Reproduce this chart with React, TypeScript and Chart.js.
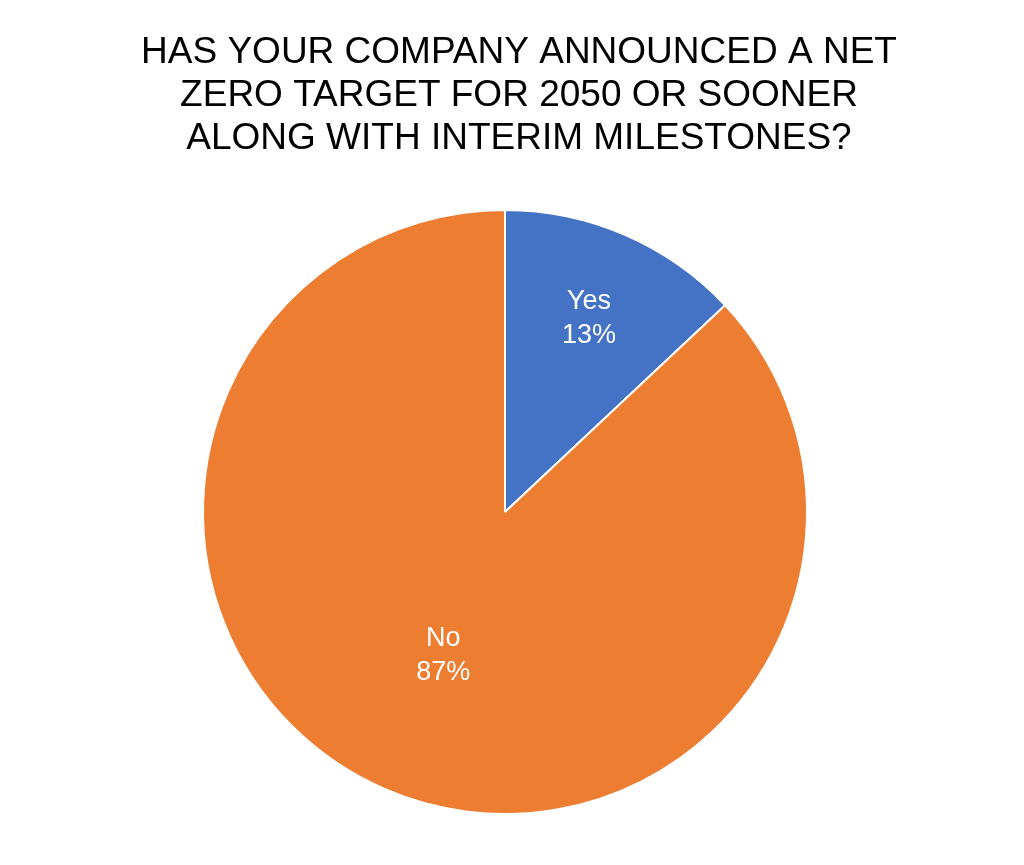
import React, { useEffect, useRef } from "react";
import { Chart, registerables } from "chart.js";

Chart.register(...registerables);

const categories = ["Yes", "No"];
const values = [13, 87];
const colors = ["#4472C4", "#ED7D31"];
const titleLines = [
  "HAS YOUR COMPANY ANNOUNCED A NET",
  "ZERO TARGET FOR 2050 OR SOONER",
  "ALONG WITH INTERIM MILESTONES?",
];

const FONT = "Arial, sans-serif";

const titlePlugin = {
  id: "manualTitle",
  afterDraw(chart: any, _args: any, opts: any) {
    const ctx = chart.ctx;
    ctx.save();
    ctx.fillStyle = "#000000";
    ctx.font = `${opts.size}px ${FONT}`;
    ctx.textAlign = "center";
    ctx.textBaseline = "alphabetic";
    (opts.lines as string[]).forEach((line, i) => {
      ctx.fillText(line, opts.x, opts.firstBaseline + i * opts.lineHeight);
    });
    ctx.restore();
  },
};

const labelPlugin = {
  id: "sliceLabels",
  afterDatasetsDraw(chart: any, _args: any, opts: any) {
    const ctx = chart.ctx;
    const meta = chart.getDatasetMeta(0);
    const data = chart.data.datasets[0].data as number[];
    const total = data.reduce((a: number, b: number) => a + b, 0);
    const fracs: number[] = opts.fractions || [];
    ctx.save();
    ctx.fillStyle = "#ffffff";
    ctx.font = `${opts.size}px ${FONT}`;
    ctx.textAlign = "center";
    ctx.textBaseline = "middle";
    meta.data.forEach((arc: any, i: number) => {
      const { x, y, startAngle, endAngle, outerRadius } = arc.getProps(
        ["x", "y", "startAngle", "endAngle", "outerRadius"],
        true
      );
      const mid = (startAngle + endAngle) / 2;
      const r = outerRadius * (fracs[i] ?? 0.6);
      const cx = x + Math.cos(mid) * r;
      const cy = y + Math.sin(mid) * r;
      const pct = Math.round((data[i] / total) * 100) + "%";
      const lh = opts.lineHeight;
      ctx.fillText(chart.data.labels[i], cx, cy - lh / 2 + 1);
      ctx.fillText(pct, cx, cy + lh / 2 + 1);
    });
    ctx.restore();
  },
};

export default function App() {
  const ref = useRef<HTMLCanvasElement>(null);
  useEffect(() => {
    document.body.style.margin = "0";
    const chart = new Chart(ref.current!, {
      type: "pie",
      data: {
        labels: categories,
        datasets: [
          {
            data: values,
            backgroundColor: colors,
            borderColor: "#ffffff",
            borderWidth: 2,
          },
        ],
      },
      plugins: [labelPlugin, titlePlugin],
      options: {
        responsive: false,
        animation: false,
        layout: { padding: { left: 202, right: 216, top: 209, bottom: 50 } },
        plugins: {
          legend: { display: false },
          tooltip: { enabled: false },
          title: { display: false },
          manualTitle: { lines: titleLines, size: 37, x: 519, firstBaseline: 63, lineHeight: 43 },
          sliceLabels: { fractions: [0.7, 0.515], size: 27, lineHeight: 34 },
        } as any,
      },
    });
    return () => chart.destroy();
  }, []);
  return (
    <div style={{ width: 1024, height: 865, background: "#fff" }}>
      <canvas ref={ref} width={1024} height={865} />
    </div>
  );
}
